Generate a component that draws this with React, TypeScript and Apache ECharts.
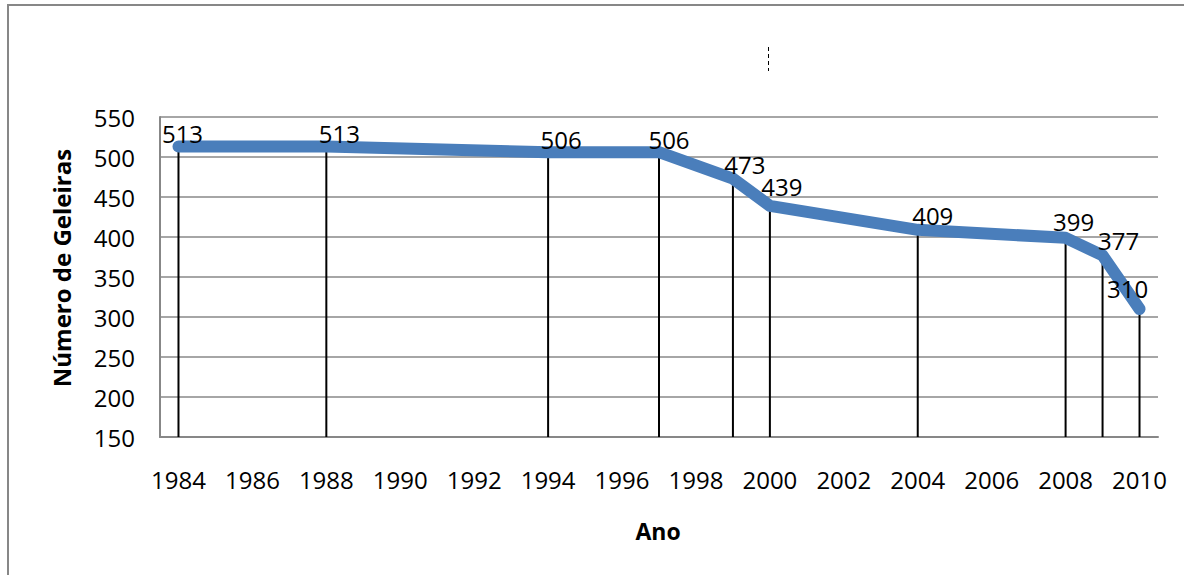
import React, { useEffect, useRef } from "react";
import * as echarts from "echarts";

const categories = [
  "1984", "1985", "1986", "1987", "1988", "1989", "1990", "1991", "1992",
  "1993", "1994", "1995", "1996", "1997", "1998", "1999", "2000", "2001",
  "2002", "2003", "2004", "2005", "2006", "2007", "2008", "2009", "2010",
];
const obsYears = ["1984", "1988", "1994", "1997", "1999", "2000", "2004", "2008", "2009", "2010"];
const glaciers = [513, 513, 506, 506, 473, 439, 409, 399, 377, 310];
// label offsets [dx, dy] (layout only)
const labelOffsets = [
  [4, 0], [13, 0], [13, 0], [10, 0], [12, -1], [12, -6], [15, -1], [8, -3], [16, -2], [-12, -8],
];
const yTitle = "Número de Geleiras";
const xTitle = "Ano";

const FONT = "'Open Sans', 'Noto Sans', sans-serif";
const LINE_COLOR = "#4a7ebb";

export default function App() {
  const ref = useRef<HTMLDivElement>(null);
  useEffect(() => {
    if (!ref.current) return;
    const chart = echarts.init(ref.current, undefined, { renderer: "svg" });
    const lineData = categories.map((c) => {
      const i = obsYears.indexOf(c);
      if (i < 0) return null;
      return {
        value: glaciers[i],
        label: { offset: labelOffsets[i] },
      };
    });
    const barData = categories.map((c) => {
      const i = obsYears.indexOf(c);
      return i < 0 ? null : glaciers[i];
    });
    chart.setOption({
      animation: false,
      textStyle: { fontFamily: FONT },
      grid: { left: 160, right: 26, top: 117, bottom: 138, containLabel: false },
      xAxis: {
        type: "category",
        data: categories,
        boundaryGap: true,
        axisLine: { show: true, lineStyle: { color: "#878787", width: 2 } },
        axisTick: { show: false },
        axisLabel: {
          interval: 1,
          margin: 30,
          color: "#000",
          fontSize: 24,
          fontFamily: FONT,
        },
        splitLine: { show: false },
      },
      yAxis: {
        type: "value",
        min: 150,
        max: 550,
        interval: 50,
        axisLine: { show: true, lineStyle: { color: "#878787", width: 2 } },
        axisTick: { show: false },
        axisLabel: { margin: 25, color: "#000", fontSize: 24, fontFamily: FONT },
        splitLine: { show: true, lineStyle: { color: "#a6a6a6", width: 2 } },
      },
      series: [
        {
          type: "bar",
          data: barData,
          barWidth: 2,
          itemStyle: { color: "#000" },
          clip: true,
          silent: true,
          z: 2,
        },
        {
          type: "line",
          data: lineData,
          connectNulls: true,
          symbol: "circle",
          symbolSize: 2,
          showSymbol: true,
          itemStyle: { color: LINE_COLOR },
          lineStyle: { color: LINE_COLOR, width: 12, cap: "round", join: "round" },
          label: {
            show: true,
            position: "top",
            distance: 0,
            color: "#000",
            fontSize: 24,
            lineHeight: 24,
            fontFamily: FONT,
          },
          z: 3,
        },
      ],
      graphic: [
        {
          type: "rect",
          shape: { x: 8, y: 5, width: 1300, height: 700 },
          style: { fill: "none", stroke: "#878787", lineWidth: 2 },
          silent: true,
        },
        {
          type: "line",
          shape: { x1: 768.5, y1: 47, x2: 768.5, y2: 71 },
          style: { stroke: "#000", lineWidth: 1, lineDash: [4, 3] },
          silent: true,
        },
        {
          type: "text",
          x: 61,
          y: 268,
          rotation: Math.PI / 2,
          style: {
            text: yTitle,
            fontFamily: FONT,
            fontSize: 24,
            fontWeight: "bold",
            fill: "#000",
            align: "center",
            verticalAlign: "middle",
          },
          silent: true,
        },
        {
          type: "text",
          x: 658,
          y: 531,
          style: {
            text: xTitle,
            fontFamily: FONT,
            fontSize: 23,
            fontWeight: "bold",
            fill: "#000",
            align: "center",
            verticalAlign: "middle",
          },
          silent: true,
        },
      ],
    });
    return () => chart.dispose();
  }, []);
  return (
    <div
      ref={ref}
      style={{ position: "absolute", left: 0, top: 0, width: 1184, height: 575, background: "#fff" }}
    />
  );
}
